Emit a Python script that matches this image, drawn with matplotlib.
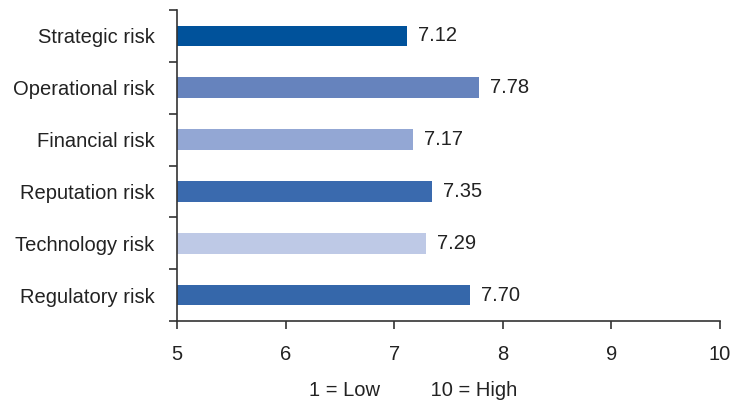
import numpy as np
import matplotlib
matplotlib.use("Agg")
import matplotlib.pyplot as plt

# risk categories and average scores (1 = Low, 10 = High)
risks = ["Strategic risk", "Operational risk", "Financial risk",
         "Reputation risk", "Technology risk", "Regulatory risk"]
scores = [7.12, 7.78, 7.17, 7.35, 7.29, 7.70]
colors = ["#00529b", "#6683bd", "#93a7d4", "#3a6aae", "#bec9e6", "#3567aa"]
xticks = [5, 6, 7, 8, 9, 10]

plt.rcParams["font.family"] = ["Liberation Sans", "DejaVu Sans"]
fs = 14.5

fig = plt.figure(figsize=(7.37, 4.03), dpi=100)
ax = fig.add_axes([0.240, 0.2035, 0.737, 0.7715])

y = np.arange(len(risks))
ax.barh(y, np.array(scores) - 5, left=5, height=0.4, color=colors)

for yi, v in zip(y, scores):
    ax.annotate(f"{v:.2f}", (v, yi), xytext=(8, 0), textcoords="offset points",
                va="center", ha="left", fontsize=fs, color="#222222")

ax.set_xlim(5, 10)
ax.set_ylim(len(risks) - 0.5, -0.5)
ax.set_xticks(xticks)
ax.set_yticks(y)
ax.set_yticklabels(risks)
ax.set_yticks(np.arange(-0.5, len(risks)), minor=True)

for s in ["top", "right"]:
    ax.spines[s].set_visible(False)
for s in ["left", "bottom"]:
    ax.spines[s].set_color("#333333")
    ax.spines[s].set_linewidth(1.2)

ax.tick_params(axis="y", which="major", length=0, pad=16, labelsize=fs,
               labelcolor="#222222")
ax.tick_params(axis="y", which="minor", length=6, width=1.2, color="#333333")
ax.tick_params(axis="x", length=6, width=1.2, color="#333333", pad=11,
               labelsize=fs, labelcolor="#222222")

fig.text(0.561, 0.008, "1 = Low         10 = High", ha="center", va="bottom",
         fontsize=fs, color="#222222")

plt.savefig("out.png", dpi=100)
